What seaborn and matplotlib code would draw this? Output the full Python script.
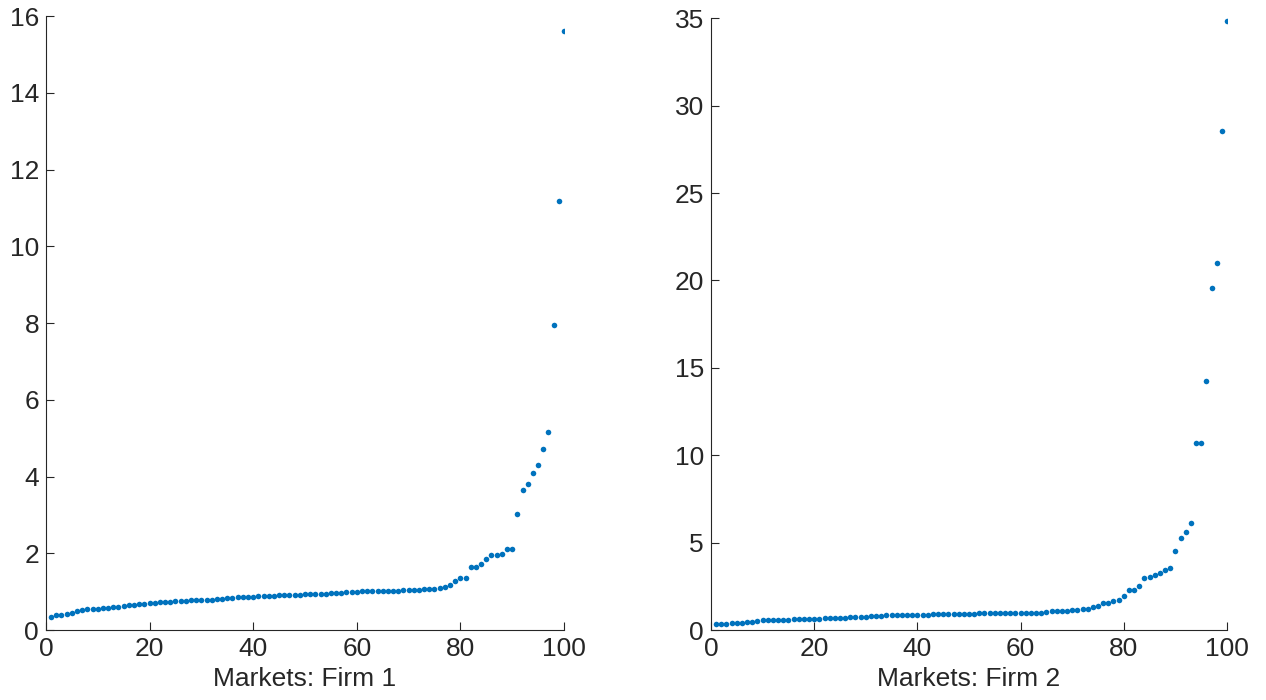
import matplotlib
matplotlib.use('Agg')
import matplotlib.pyplot as plt
import numpy as np
import pandas as pd
import seaborn as sns

# sorted per-market values
firm1 = [0.35, 0.38, 0.40, 0.41, 0.45, 0.50, 0.53, 0.54, 0.54, 0.55,
         0.57, 0.58, 0.60, 0.61, 0.62, 0.64, 0.66, 0.67, 0.68, 0.70,
         0.71, 0.72, 0.74, 0.74, 0.75, 0.75, 0.76, 0.77, 0.77, 0.77,
         0.77, 0.78, 0.80, 0.82, 0.83, 0.84, 0.85, 0.85, 0.86, 0.86,
         0.88, 0.89, 0.89, 0.89, 0.90, 0.92, 0.92, 0.92, 0.92, 0.93,
         0.93, 0.95, 0.95, 0.95, 0.96, 0.96, 0.97, 0.98, 0.99, 1.00,
         1.01, 1.01, 1.01, 1.01, 1.01, 1.01, 1.02, 1.02, 1.03, 1.04,
         1.05, 1.05, 1.06, 1.07, 1.07, 1.09, 1.12, 1.16, 1.27, 1.36,
         1.36, 1.65, 1.65, 1.72, 1.85, 1.96, 1.96, 1.99, 2.11, 2.11,
         3.02, 3.66, 3.80, 4.10, 4.31, 4.72, 5.17, 7.96, 11.17, 15.61]

firm2 = [0.33, 0.33, 0.37, 0.38, 0.38, 0.42, 0.45, 0.48, 0.52, 0.57,
         0.58, 0.58, 0.59, 0.59, 0.58, 0.62, 0.63, 0.63, 0.62, 0.63,
         0.65, 0.68, 0.68, 0.68, 0.69, 0.70, 0.72, 0.74, 0.74, 0.75,
         0.78, 0.79, 0.80, 0.83, 0.83, 0.83, 0.84, 0.84, 0.84, 0.84,
         0.85, 0.88, 0.89, 0.89, 0.89, 0.89, 0.89, 0.89, 0.89, 0.90,
         0.93, 0.95, 0.95, 0.95, 0.95, 0.95, 0.97, 0.98, 0.99, 1.00,
         1.00, 1.00, 1.00, 1.00, 1.02, 1.06, 1.07, 1.08, 1.10, 1.13,
         1.15, 1.19, 1.19, 1.31, 1.38, 1.54, 1.56, 1.67, 1.73, 1.96,
         2.27, 2.29, 2.50, 2.96, 3.04, 3.13, 3.27, 3.42, 3.54, 4.50,
         5.29, 5.58, 6.10, 10.69, 10.69, 14.23, 19.54, 20.97, 28.57, 34.86]

markets = np.arange(1, len(firm1) + 1)
firm1_yticks = [0, 2, 4, 6, 8, 10, 12, 14, 16]
firm2_yticks = [0, 5, 10, 15, 20, 25, 30, 35]
xticks = [0, 20, 40, 60, 80, 100]

sns.set_style('ticks')
plt.rcParams['font.family'] = ['Liberation Sans', 'DejaVu Sans']
plt.rcParams['text.color'] = '#262626'
plt.rcParams['xtick.color'] = '#262626'
plt.rcParams['ytick.color'] = '#262626'

fig = plt.figure(figsize=(12.66, 7), dpi=100)
ax1 = fig.add_axes([0.0363, 0.1, 0.4092, 0.877])
ax2 = fig.add_axes([0.5616, 0.1, 0.4076, 0.874])

panels = [(ax1, firm1, 'Markets: Firm 1', 16, firm1_yticks),
          (ax2, firm2, 'Markets: Firm 2', 35, firm2_yticks)]

for ax, vals, label, ymax, yt in panels:
    df = pd.DataFrame({'market': markets, 'value': vals})
    sns.scatterplot(data=df, x='market', y='value', ax=ax,
                    color='#0072BD', s=16, linewidth=0)
    ax.set_xlim(0, 100)
    ax.set_ylim(0, ymax)
    ax.set_xticks(xticks)
    ax.set_yticks(yt)
    ax.set_xlabel(label, fontsize=19, labelpad=4)
    ax.set_ylabel('')
    ax.tick_params(direction='in', length=6, width=0.8, labelsize=19, pad=5,
                   color='#262626')
    for side in ['top', 'right']:
        ax.spines[side].set_visible(False)
    for side in ['left', 'bottom']:
        ax.spines[side].set_color('#262626')
        ax.spines[side].set_linewidth(0.8)

fig.savefig('out.png', dpi=100)
